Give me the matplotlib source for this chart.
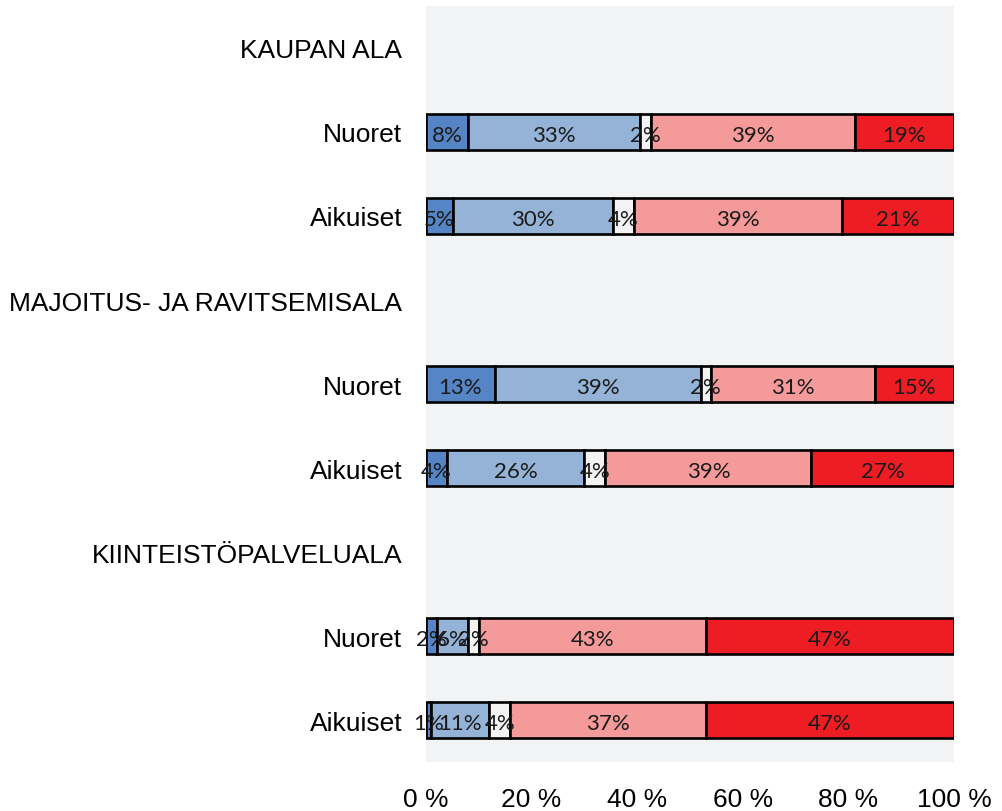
import numpy as np
import matplotlib
matplotlib.use("Agg")
import matplotlib.pyplot as plt

# categories top to bottom; headers carry no bar
categories = ["KAUPAN ALA", "Nuoret", "Aikuiset",
              "MAJOITUS- JA RAVITSEMISALA", "Nuoret", "Aikuiset",
              "KIINTEISTÖPALVELUALA", "Nuoret", "Aikuiset"]

# shares per answer class (%), None for header rows
seg1 = [None, 8, 5, None, 13, 4, None, 2, 1]
seg2 = [None, 33, 30, None, 39, 26, None, 6, 11]
seg3 = [None, 2, 4, None, 2, 4, None, 2, 4]
seg4 = [None, 39, 39, None, 31, 39, None, 43, 37]
seg5 = [None, 19, 21, None, 15, 27, None, 47, 47]

xticks = [0, 20, 40, 60, 80, 100]
xtick_labels = ["0 %", "20 %", "40 %", "60 %", "80 %", "100 %"]

colors = ["#5585c5", "#95b3d7", "#f3f3f3", "#f59a9a", "#ee1d24"]

plt.rcParams["font.family"] = ["Liberation Sans", "DejaVu Sans"]

fig = plt.figure(figsize=(10.03, 8.12), dpi=100)
ax = fig.add_axes([0.4247, 0.0603, 0.9511 - 0.4247, 0.9914 - 0.0603])
ax.set_facecolor("#f2f3f5")

n = len(categories)
ypos = np.arange(n)
segments = [seg1, seg2, seg3, seg4, seg5]

for i in range(n):
    vals = [s[i] for s in segments]
    if vals[0] is None:
        continue
    total = sum(vals)
    left = 0.0
    for v, c in zip(vals, colors):
        w = v / total * 100
        ax.barh(ypos[i], w, left=left, height=0.42, color=c,
                edgecolor="black", linewidth=1.9, zorder=3)
        ax.text(left + w / 2, ypos[i] + 0.03, f"{v}%", ha="center", va="center",
                fontsize=16, family=["Lato", "DejaVu Sans"], color="#1a1a1a",
                zorder=4)
        left += w

ax.set_xlim(0, 100)
ax.set_ylim(n - 0.5, -0.5)
ax.set_yticks(ypos)
ax.set_yticklabels(categories, fontsize=19)
ax.set_xticks(xticks)
ax.set_xticklabels(xtick_labels, fontsize=19)
ax.tick_params(axis="y", length=0, pad=17)
ax.tick_params(axis="x", length=0, pad=18)
for sp in ax.spines.values():
    sp.set_visible(False)

fig.savefig("out.png", dpi=100)
